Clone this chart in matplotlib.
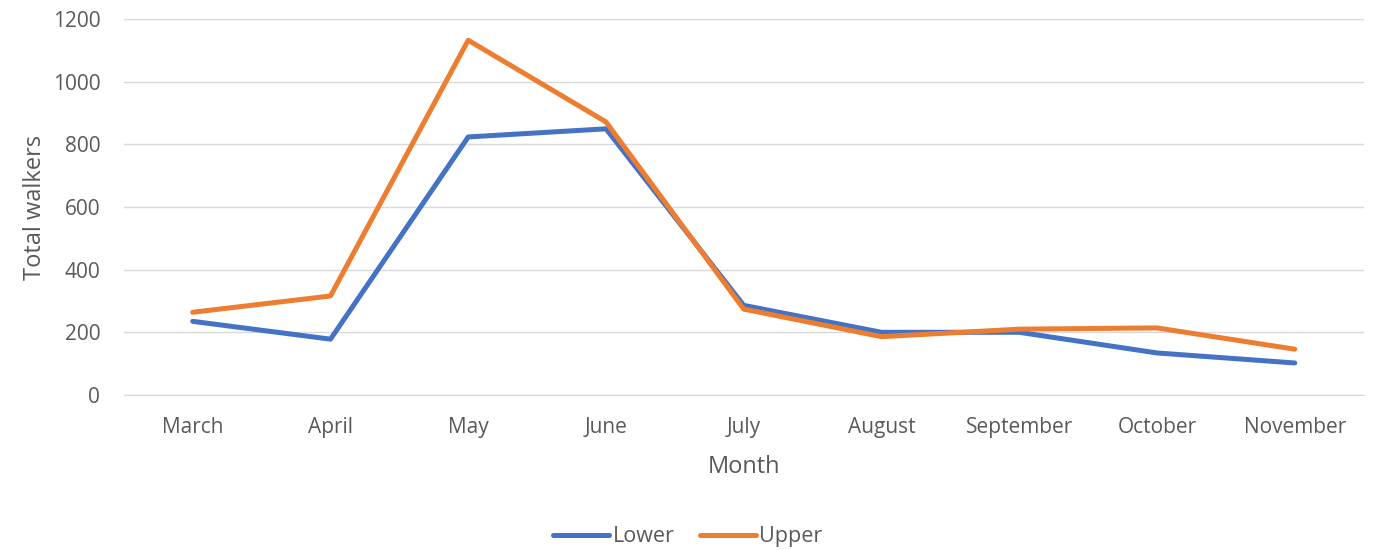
import matplotlib
matplotlib.use('Agg')
import matplotlib.pyplot as plt

months = ['March', 'April', 'May', 'June', 'July', 'August', 'September', 'October', 'November']
lower = [235, 178, 824, 850, 286, 200, 200, 134, 102]
upper = [264, 316, 1133, 872, 274, 186, 210, 214, 146]

plt.rcParams['font.family'] = ['Open Sans', 'DejaVu Sans']
txt = '#595959'

fig = plt.figure(figsize=(13.76, 5.5), dpi=100)
ax = fig.add_axes([0.090, 0.282, 0.901, 0.683])
x = range(len(months))
ax.plot(x, lower, color='#4472C4', lw=3.6, solid_capstyle='round', solid_joinstyle='round', label='Lower')
ax.plot(x, upper, color='#ED7D31', lw=3.6, solid_capstyle='round', solid_joinstyle='round', label='Upper')

ax.set_xlim(-0.5, len(months) - 0.5)
ax.set_ylim(0, 1200)
ax.set_yticks(range(0, 1201, 200))
ax.set_xticks(list(x))
ax.set_xticklabels(months)
ax.grid(axis='y', color='#D9D9D9', lw=1)
ax.set_axisbelow(True)
for s in ['top', 'right', 'left']:
    ax.spines[s].set_visible(False)
ax.spines['bottom'].set_color('#D9D9D9')
ax.tick_params(length=0, labelsize=15, colors=txt)
ax.tick_params(axis='x', pad=16)
ax.tick_params(axis='y', pad=17)
ax.set_xlabel('Month', fontsize=17, color=txt, labelpad=12)
ax.set_ylabel('Total walkers', fontsize=17, color=txt, labelpad=4)

fig.legend(loc='lower center', bbox_to_anchor=(0.5, -0.03), ncol=2, frameon=False,
           fontsize=15.5, labelcolor=txt, handlelength=2.6, handletextpad=0.15, columnspacing=1.2)

fig.savefig('out.png', dpi=100)
